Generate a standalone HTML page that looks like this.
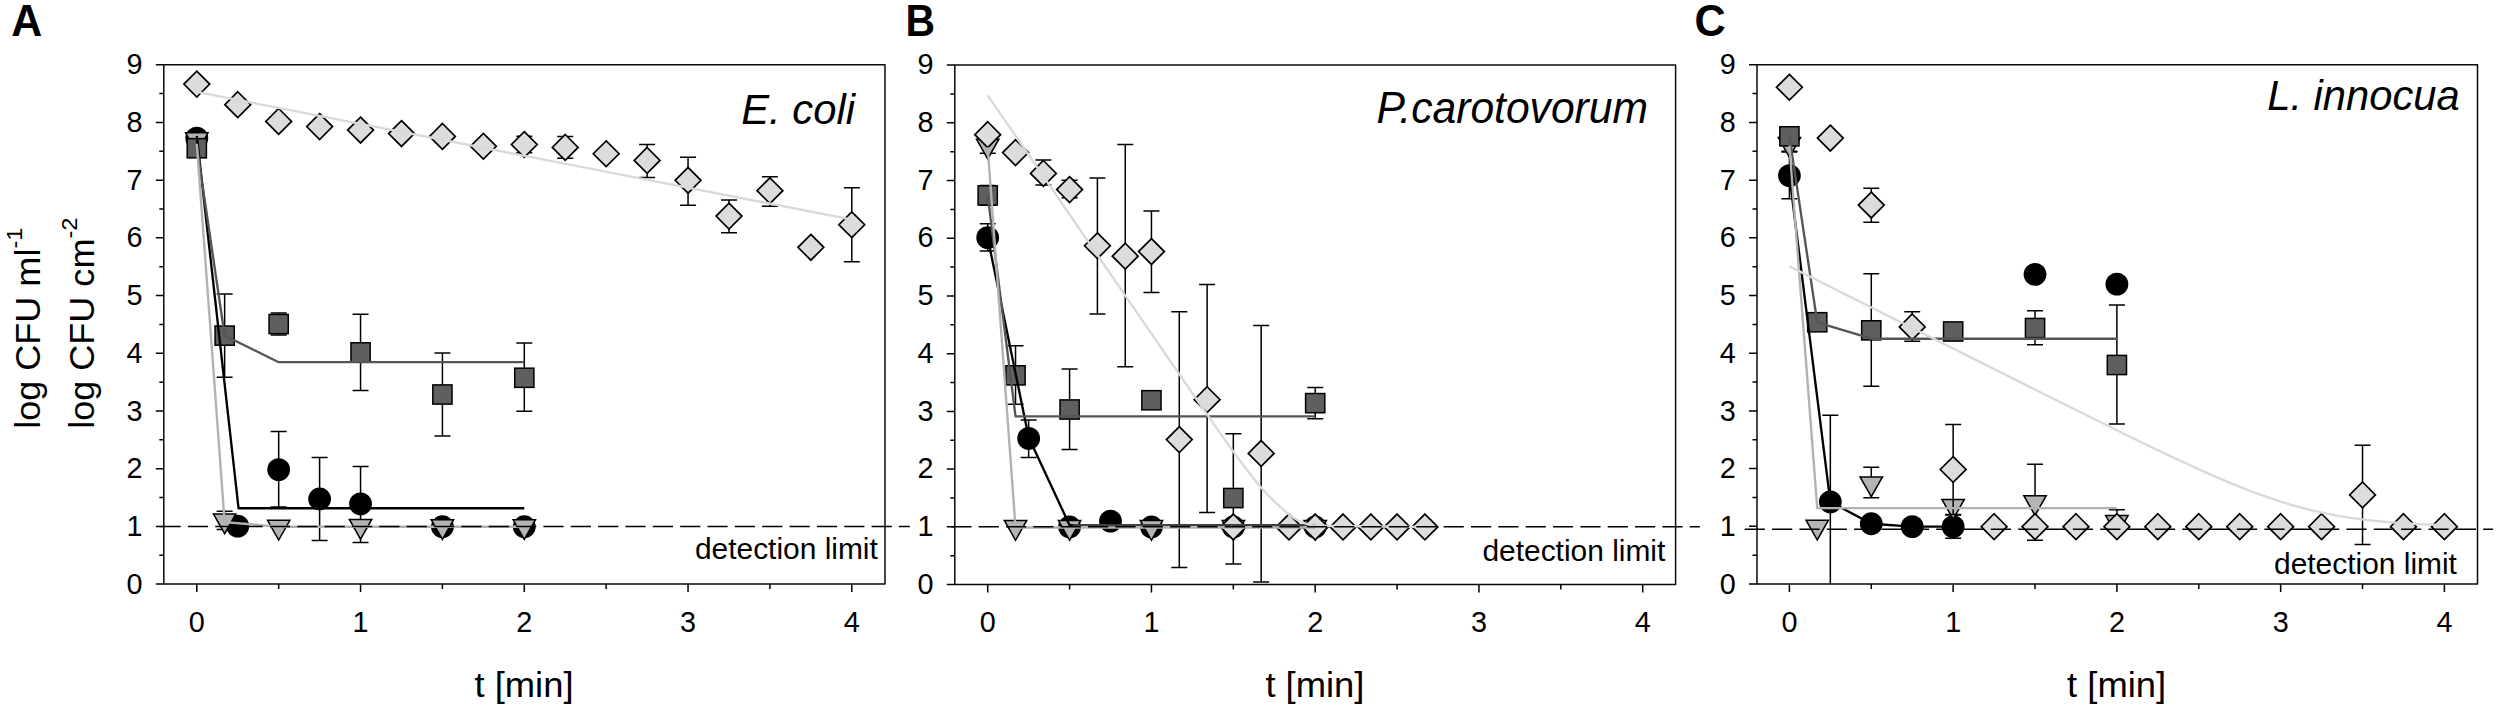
<!DOCTYPE html>
<html lang="en">
<head>
<meta charset="utf-8">
<title>Inactivation kinetics</title>
<style>
html,body{margin:0;padding:0;background:#fff;}
body{width:2500px;height:713px;overflow:hidden;}
svg{display:block;}
text{font-family:"Liberation Sans", sans-serif;fill:#000;}
</style>
</head>
<body>
<svg width="2500" height="713" viewBox="0 0 2500 713">
<rect width="2500" height="713" fill="#fff"/>
<text transform="translate(11.3 35.75) scale(0.975 1)" font-size="44" text-anchor="start" font-weight="bold">A</text>
<text transform="translate(905.6 35.75) scale(0.93 1)" font-size="44" text-anchor="start" font-weight="bold">B</text>
<text transform="translate(1694.5 36) scale(0.96 1)" font-size="45" text-anchor="start" font-weight="bold">C</text>
<g font-size="34.5">
<text transform="translate(39.8 428.8) rotate(-90) scale(1.045 1)">log CFU ml<tspan font-size="22.5" dy="-17.5">-1</tspan></text>
<text transform="translate(94.4 428.8) rotate(-90) scale(1.045 1)">log CFU cm<tspan font-size="22.5" dy="-17.5">-2</tspan></text>
</g>
<path d="M163.8 64.74H885V584.1H163.8Z" fill="none" stroke="#0a0a0a" stroke-width="1.5" stroke-linejoin="round"/>
<path d="M155.8 584.1H163.8M159.3 555.25H163.8M155.8 526.39H163.8M159.3 497.54H163.8M155.8 468.69H163.8M159.3 439.83H163.8M155.8 410.98H163.8M159.3 382.13H163.8M155.8 353.27H163.8M159.3 324.42H163.8M155.8 295.57H163.8M159.3 266.71H163.8M155.8 237.86H163.8M159.3 209.01H163.8M155.8 180.15H163.8M159.3 151.3H163.8M155.8 122.45H163.8M159.3 93.59H163.8M155.8 64.74H163.8M196.8 584.1V592.1M278.68 584.1V589.1M360.55 584.1V592.1M442.43 584.1V589.1M524.3 584.1V592.1M606.17 584.1V589.1M688.05 584.1V592.1M769.92 584.1V589.1M851.8 584.1V592.1" fill="none" stroke="#000" stroke-width="1.5"/>
<text transform="translate(142.5 593.8)" font-size="28.8" text-anchor="end">0</text>
<text transform="translate(142.5 536.06)" font-size="28.8" text-anchor="end">1</text>
<text transform="translate(142.5 478.32)" font-size="28.8" text-anchor="end">2</text>
<text transform="translate(142.5 420.58)" font-size="28.8" text-anchor="end">3</text>
<text transform="translate(142.5 362.84)" font-size="28.8" text-anchor="end">4</text>
<text transform="translate(142.5 305.1)" font-size="28.8" text-anchor="end">5</text>
<text transform="translate(142.5 247.36)" font-size="28.8" text-anchor="end">6</text>
<text transform="translate(142.5 189.62)" font-size="28.8" text-anchor="end">7</text>
<text transform="translate(142.5 131.88)" font-size="28.8" text-anchor="end">8</text>
<text transform="translate(142.5 74.14)" font-size="28.8" text-anchor="end">9</text>
<text transform="translate(196.8 631.5)" font-size="28.8" text-anchor="middle">0</text>
<text transform="translate(360.55 631.5)" font-size="28.8" text-anchor="middle">1</text>
<text transform="translate(524.3 631.5)" font-size="28.8" text-anchor="middle">2</text>
<text transform="translate(688.05 631.5)" font-size="28.8" text-anchor="middle">3</text>
<text transform="translate(851.8 631.5)" font-size="28.8" text-anchor="middle">4</text>
<text transform="translate(524 697) scale(1.04 1)" font-size="35" text-anchor="middle">t [min]</text>
<text transform="translate(855 124.3)" font-size="41.8" text-anchor="end" font-style="italic">E. coli</text>
<text transform="translate(877.8 559.3) scale(1.008 1)" font-size="29.7" text-anchor="end">detection limit</text>
<g fill="none" stroke="#000" stroke-width="1.5">
<path d="M278.68 431.47V507.11M270.68 431.47H286.68M270.68 507.11H286.68"/>
<path d="M319.61 457.45V540.6M311.61 457.45H327.61M311.61 540.6H327.61"/>
<path d="M360.55 466.4V542.62M352.55 466.4H368.55M352.55 542.62H368.55"/>
</g>
<g fill="#000" stroke="none">
<circle cx="196.8" cy="138.15" r="11.4"/>
<circle cx="237.74" cy="526.16" r="11.4"/>
<circle cx="278.68" cy="469.57" r="11.4"/>
<circle cx="319.61" cy="499.02" r="11.4"/>
<circle cx="360.55" cy="503.93" r="11.4"/>
<circle cx="442.43" cy="526.74" r="11.4"/>
<circle cx="524.3" cy="526.74" r="11.4"/>
</g>
<g fill="none" stroke="#000" stroke-width="1.5">
<path d="M224.64 511.15V529.62M216.64 511.15H232.64M216.64 529.62H232.64"/>
</g>
<g fill="#b4b4b4" stroke="#000" stroke-width="1.5" stroke-linejoin="miter">
<path d="M185.6 132.83H208L196.8 152.63Z"/>
<path d="M213.44 513.92H235.84L224.64 533.72Z"/>
<path d="M267.48 520.27H289.88L278.68 540.07Z"/>
<path d="M349.35 519.4H371.75L360.55 539.2Z"/>
<path d="M431.23 519.69H453.62L442.43 539.49Z"/>
<path d="M513.1 519.69H535.5L524.3 539.49Z"/>
</g>
<g fill="none" stroke="#000" stroke-width="1.5">
<path d="M224.64 294.05V377.19M216.64 294.05H232.64M216.64 377.19H232.64"/>
<path d="M278.68 313.1V335.04M270.68 313.1H286.68M270.68 335.04H286.68"/>
<path d="M360.55 314.25V390.47M352.55 314.25H368.55M352.55 390.47H368.55"/>
<path d="M442.43 352.94V436.09M434.43 352.94H450.43M434.43 436.09H450.43"/>
<path d="M524.3 343.12V411.26M516.3 343.12H532.3M516.3 411.26H532.3"/>
</g>
<g fill="#5f5f5f" stroke="#000" stroke-width="1.5">
<rect x="187.2" y="138.65" width="19.2" height="19.2"/>
<rect x="215.04" y="326.02" width="19.2" height="19.2"/>
<rect x="269.07" y="314.47" width="19.2" height="19.2"/>
<rect x="350.95" y="342.76" width="19.2" height="19.2"/>
<rect x="432.82" y="384.91" width="19.2" height="19.2"/>
<rect x="514.7" y="368.17" width="19.2" height="19.2"/>
</g>
<g fill="none" stroke="#000" stroke-width="1.5">
<path d="M524.3 136.13V152.87M516.3 136.13H532.3M516.3 152.87H532.3"/>
<path d="M565.24 136.41V158.36M557.24 136.41H573.24M557.24 158.36H573.24"/>
<path d="M647.11 144.5V177.41M639.11 144.5H655.11M639.11 177.41H655.11"/>
<path d="M688.05 157.2V205.13M680.05 157.2H696.05M680.05 205.13H696.05"/>
<path d="M728.99 199.93V232.84M720.99 199.93H736.99M720.99 232.84H736.99"/>
<path d="M769.92 176.83V206.28M761.92 176.83H777.92M761.92 206.28H777.92"/>
<path d="M851.8 187.8V261.71M843.8 187.8H859.8M843.8 261.71H859.8"/>
</g>
<g fill="#dcdcdc" stroke="#000" stroke-width="1.7" stroke-linejoin="miter">
<path d="M196.8 71.2L209.7 84.1L196.8 97L183.9 84.1Z"/>
<path d="M237.74 91.76L250.64 104.66L237.74 117.56L224.84 104.66Z"/>
<path d="M278.68 108.5L291.57 121.4L278.68 134.3L265.78 121.4Z"/>
<path d="M319.61 113.7L332.51 126.6L319.61 139.5L306.71 126.6Z"/>
<path d="M360.55 117.16L373.45 130.06L360.55 142.96L347.65 130.06Z"/>
<path d="M401.49 120.63L414.39 133.53L401.49 146.43L388.59 133.53Z"/>
<path d="M442.43 123.51L455.32 136.41L442.43 149.31L429.53 136.41Z"/>
<path d="M483.36 133.33L496.26 146.23L483.36 159.13L470.46 146.23Z"/>
<path d="M524.3 131.6L537.2 144.5L524.3 157.4L511.4 144.5Z"/>
<path d="M565.24 134.49L578.14 147.39L565.24 160.29L552.34 147.39Z"/>
<path d="M606.17 140.84L619.07 153.74L606.17 166.64L593.27 153.74Z"/>
<path d="M647.11 147.48L660.01 160.38L647.11 173.28L634.21 160.38Z"/>
<path d="M688.05 167.4L700.95 180.3L688.05 193.2L675.15 180.3Z"/>
<path d="M728.99 203.2L741.89 216.1L728.99 229L716.09 216.1Z"/>
<path d="M769.92 177.79L782.82 190.69L769.92 203.59L757.02 190.69Z"/>
<path d="M810.86 234.38L823.76 247.28L810.86 260.18L797.96 247.28Z"/>
<path d="M851.8 211.86L864.7 224.76L851.8 237.66L838.9 224.76Z"/>
</g>
<path d="M196.8 135.84L238.56 508.26L524.3 508.26" fill="none" stroke="#000" stroke-width="2.35" stroke-linejoin="round"/>
<path d="M196.8 146.23L224.64 335.62L278.68 362.18L524.3 362.18" fill="none" stroke="#555" stroke-width="2.35" stroke-linejoin="round"/>
<path d="M196.8 143.92L224.64 522.12L278.68 526.74L524.3 526.74" fill="none" stroke="#b2b2b2" stroke-width="2.35" stroke-linejoin="round"/>
<path d="M196.8 91.96L851.8 219.56" fill="none" stroke="#d9d9d9" stroke-width="2.35" stroke-linejoin="round"/>
<path d="M160.5 526.39H909.8" fill="none" stroke="#000" stroke-width="1.5" stroke-dasharray="20.2 7.15" stroke-dashoffset="0"/>
<path d="M954.8 65.1H1675.6V584.55H954.8Z" fill="none" stroke="#0a0a0a" stroke-width="1.5" stroke-linejoin="round"/>
<path d="M946.8 584.55H954.8M950.3 555.69H954.8M946.8 526.83H954.8M950.3 497.97H954.8M946.8 469.12H954.8M950.3 440.26H954.8M946.8 411.4H954.8M950.3 382.54H954.8M946.8 353.68H954.8M950.3 324.82H954.8M946.8 295.97H954.8M950.3 267.11H954.8M946.8 238.25H954.8M950.3 209.39H954.8M946.8 180.53H954.8M950.3 151.68H954.8M946.8 122.82H954.8M950.3 93.96H954.8M946.8 65.1H954.8M987.7 584.55V592.55M1069.58 584.55V589.55M1151.45 584.55V592.55M1233.33 584.55V589.55M1315.2 584.55V592.55M1397.08 584.55V589.55M1478.95 584.55V592.55M1560.83 584.55V589.55M1642.7 584.55V592.55" fill="none" stroke="#000" stroke-width="1.5"/>
<text transform="translate(933.5 593.8)" font-size="28.8" text-anchor="end">0</text>
<text transform="translate(933.5 536.06)" font-size="28.8" text-anchor="end">1</text>
<text transform="translate(933.5 478.32)" font-size="28.8" text-anchor="end">2</text>
<text transform="translate(933.5 420.58)" font-size="28.8" text-anchor="end">3</text>
<text transform="translate(933.5 362.84)" font-size="28.8" text-anchor="end">4</text>
<text transform="translate(933.5 305.1)" font-size="28.8" text-anchor="end">5</text>
<text transform="translate(933.5 247.36)" font-size="28.8" text-anchor="end">6</text>
<text transform="translate(933.5 189.62)" font-size="28.8" text-anchor="end">7</text>
<text transform="translate(933.5 131.88)" font-size="28.8" text-anchor="end">8</text>
<text transform="translate(933.5 74.14)" font-size="28.8" text-anchor="end">9</text>
<text transform="translate(987.7 631.98)" font-size="28.8" text-anchor="middle">0</text>
<text transform="translate(1151.45 631.98)" font-size="28.8" text-anchor="middle">1</text>
<text transform="translate(1315.2 631.98)" font-size="28.8" text-anchor="middle">2</text>
<text transform="translate(1478.95 631.98)" font-size="28.8" text-anchor="middle">3</text>
<text transform="translate(1642.7 631.98)" font-size="28.8" text-anchor="middle">4</text>
<text transform="translate(1314.9 697.48) scale(1.04 1)" font-size="35" text-anchor="middle">t [min]</text>
<text transform="translate(1648 123.3) scale(0.98 1)" font-size="43.5" text-anchor="end" font-style="italic">P.carotovorum</text>
<text transform="translate(1665.3 561) scale(1.008 1)" font-size="29.7" text-anchor="end">detection limit</text>
<g fill="none" stroke="#000" stroke-width="1.5">
<path d="M987.7 223.75V250.95M979.7 223.75H995.7M979.7 250.95H995.7"/>
<path d="M1028.64 419.91V457.52M1020.64 419.91H1036.64M1020.64 457.52H1036.64"/>
</g>
<g fill="#000" stroke="none">
<circle cx="987.7" cy="237.64" r="11.4"/>
<circle cx="1028.64" cy="438.43" r="11.4"/>
<circle cx="1069.58" cy="526.96" r="11.4"/>
<circle cx="1110.51" cy="521.17" r="11.4"/>
<circle cx="1151.45" cy="526.96" r="11.4"/>
<circle cx="1233.33" cy="526.96" r="11.4"/>
<circle cx="1315.2" cy="526.96" r="11.4"/>
</g>
<g fill="none" stroke="#000" stroke-width="1.5">
<path d="M987.7 141.59V153.16M979.7 141.59H995.7M979.7 153.16H995.7"/>
</g>
<g fill="#b4b4b4" stroke="#000" stroke-width="1.5" stroke-linejoin="miter">
<path d="M976.5 139.18H998.9L987.7 158.98Z"/>
<path d="M1004.34 520.49H1026.74L1015.54 540.29Z"/>
<path d="M1058.38 520.49H1080.78L1069.58 540.29Z"/>
<path d="M1140.25 520.49H1162.65L1151.45 540.29Z"/>
<path d="M1222.12 520.49H1244.53L1233.33 540.29Z"/>
<path d="M1304 520.49H1326.4L1315.2 540.29Z"/>
</g>
<g fill="none" stroke="#000" stroke-width="1.5">
<path d="M987.7 185.57V205.24M979.7 185.57H995.7M979.7 205.24H995.7"/>
<path d="M1015.54 345.85V404.29M1007.54 345.85H1023.54M1007.54 404.29H1023.54"/>
<path d="M1069.58 368.99V449.42M1061.58 368.99H1077.58M1061.58 449.42H1077.58"/>
<path d="M1233.33 433.8V563.99M1225.33 433.8H1241.33M1225.33 563.99H1241.33"/>
<path d="M1315.2 387.51V418.75M1307.2 387.51H1323.2M1307.2 418.75H1323.2"/>
</g>
<g fill="#5f5f5f" stroke="#000" stroke-width="1.5">
<rect x="978.1" y="185.8" width="19.2" height="19.2"/>
<rect x="1005.94" y="365.76" width="19.2" height="19.2"/>
<rect x="1059.98" y="399.9" width="19.2" height="19.2"/>
<rect x="1141.85" y="390.64" width="19.2" height="19.2"/>
<rect x="1223.73" y="488.43" width="19.2" height="19.2"/>
<rect x="1305.6" y="393.53" width="19.2" height="19.2"/>
</g>
<g fill="none" stroke="#000" stroke-width="1.5">
<path d="M1043.38 160.11V184.99M1035.38 160.11H1051.38M1035.38 184.99H1051.38"/>
<path d="M1069.58 180.36V197.72M1061.58 180.36H1077.58M1061.58 197.72H1077.58"/>
<path d="M1097.41 178.04V314.02M1089.41 178.04H1105.41M1089.41 314.02H1105.41"/>
<path d="M1125.25 144.48V366.68M1117.25 144.48H1133.25M1117.25 366.68H1133.25"/>
<path d="M1151.45 211.03V292.61M1143.45 211.03H1159.45M1143.45 292.61H1159.45"/>
<path d="M1179.29 311.71V567.46M1171.29 311.71H1187.29M1171.29 567.46H1187.29"/>
<path d="M1207.12 284.51V512.49M1199.12 284.51H1215.12M1199.12 512.49H1215.12"/>
<path d="M1261.16 325.59V581.93M1253.16 325.59H1269.16M1253.16 581.93H1269.16"/>
</g>
<g fill="#dcdcdc" stroke="#000" stroke-width="1.7" stroke-linejoin="miter">
<path d="M987.7 121.75L1000.6 134.65L987.7 147.55L974.8 134.65Z"/>
<path d="M1015.54 139.68L1028.44 152.58L1015.54 165.48L1002.64 152.58Z"/>
<path d="M1043.38 160.51L1056.28 173.41L1043.38 186.31L1030.47 173.41Z"/>
<path d="M1069.58 176.72L1082.48 189.62L1069.58 202.52L1056.67 189.62Z"/>
<path d="M1097.41 232.84L1110.31 245.74L1097.41 258.64L1084.51 245.74Z"/>
<path d="M1125.25 243.26L1138.15 256.16L1125.25 269.06L1112.35 256.16Z"/>
<path d="M1151.45 238.63L1164.35 251.53L1151.45 264.43L1138.55 251.53Z"/>
<path d="M1179.29 426.68L1192.19 439.58L1179.29 452.48L1166.39 439.58Z"/>
<path d="M1207.12 386.76L1220.03 399.66L1207.12 412.56L1194.22 399.66Z"/>
<path d="M1233.33 514.06L1246.23 526.96L1233.33 539.86L1220.42 526.96Z"/>
<path d="M1261.16 440.57L1274.06 453.47L1261.16 466.37L1248.26 453.47Z"/>
<path d="M1289 514.06L1301.9 526.96L1289 539.86L1276.1 526.96Z"/>
<path d="M1315.2 514.06L1328.1 526.96L1315.2 539.86L1302.3 526.96Z"/>
<path d="M1343.04 514.06L1355.94 526.96L1343.04 539.86L1330.14 526.96Z"/>
<path d="M1370.88 514.06L1383.78 526.96L1370.88 539.86L1357.97 526.96Z"/>
<path d="M1397.08 514.06L1409.98 526.96L1397.08 539.86L1384.17 526.96Z"/>
<path d="M1424.91 514.06L1437.81 526.96L1424.91 539.86L1412.01 526.96Z"/>
</g>
<path d="M1069.58 525.22L1315.2 525.22" fill="none" stroke="#404040" stroke-width="2.2" stroke-linejoin="round"/>
<path d="M987.7 237.64L1028.64 437.27L1069.58 525.22L1072.85 525.22" fill="none" stroke="#000" stroke-width="2.35" stroke-linejoin="round"/>
<path d="M987.7 195.4L1015.54 416.44L1315.2 416.44" fill="none" stroke="#555" stroke-width="2.35" stroke-linejoin="round"/>
<path d="M987.7 147.38L1015.54 527.54L1315.2 527.54" fill="none" stroke="#b2b2b2" stroke-width="2.35" stroke-linejoin="round"/>
<path d="M987.7 95.3L990.98 100.07L994.25 104.83L997.53 109.6L1000.8 114.37L1004.08 119.14L1007.35 123.91L1010.62 128.67L1013.9 133.44L1017.18 138.21L1020.45 142.98L1023.73 147.75L1027 152.51L1030.28 157.28L1033.55 162.05L1036.83 166.82L1040.1 171.59L1043.38 176.35L1046.65 181.12L1049.92 185.89L1053.2 190.66L1056.48 195.43L1059.75 200.19L1063.03 204.96L1066.3 209.73L1069.58 214.5L1072.85 219.26L1076.12 224.03L1079.4 228.8L1082.67 233.57L1085.95 238.34L1089.23 243.1L1092.5 247.87L1095.78 252.64L1099.05 257.41L1102.33 262.18L1105.6 266.94L1108.88 271.71L1112.15 276.48L1115.42 281.25L1118.7 286.01L1121.98 290.78L1125.25 295.55L1128.53 300.32L1131.8 305.08L1135.08 309.85L1138.35 314.62L1141.62 319.38L1144.9 324.15L1148.17 328.92L1151.45 333.68L1154.73 338.45L1158 343.21L1161.28 347.98L1164.55 352.74L1167.83 357.5L1171.1 362.27L1174.38 367.03L1177.65 371.79L1180.92 376.54L1184.2 381.3L1187.48 386.05L1190.75 390.8L1194.03 395.54L1197.3 400.28L1200.58 405.02L1203.85 409.74L1207.12 414.46L1210.4 419.17L1213.67 423.87L1216.95 428.55L1220.22 433.21L1223.5 437.85L1226.78 442.47L1230.05 447.06L1233.33 451.61L1236.6 456.11L1239.88 460.57L1243.15 464.97L1246.43 469.29L1249.7 473.54L1252.98 477.69L1256.25 481.73L1259.53 485.64L1262.8 489.41L1266.08 493.03L1269.35 496.47L1272.62 499.73L1275.9 502.82L1279.18 505.91L1282.45 508.95L1285.73 511.83L1289 514.49L1292.28 516.88L1295.55 518.97L1298.83 520.76L1302.1 522.25L1305.38 523.47L1308.65 524.44L1311.93 525.2L1315.2 525.77L1424.91 526.96" fill="none" stroke="#d9d9d9" stroke-width="2.35" stroke-linejoin="round"/>
<path d="M951.3 526.83H1699.8" fill="none" stroke="#000" stroke-width="1.5" stroke-dasharray="20.2 7.15" stroke-dashoffset="0"/>
<path d="M1757 64.75H2477.5V584H1757Z" fill="none" stroke="#0a0a0a" stroke-width="1.5" stroke-linejoin="round"/>
<path d="M1749 584H1757M1752.5 555.15H1757M1749 526.31H1757M1752.5 497.46H1757M1749 468.61H1757M1752.5 439.76H1757M1749 410.92H1757M1752.5 382.07H1757M1749 353.22H1757M1752.5 324.38H1757M1749 295.53H1757M1752.5 266.68H1757M1749 237.83H1757M1752.5 208.99H1757M1749 180.14H1757M1752.5 151.29H1757M1749 122.44H1757M1752.5 93.6H1757M1749 64.75H1757M1789.4 584V592M1871.28 584V589M1953.15 584V592M2035.03 584V589M2116.9 584V592M2198.78 584V589M2280.65 584V592M2362.53 584V589M2444.4 584V592" fill="none" stroke="#000" stroke-width="1.5"/>
<text transform="translate(1735.7 593.8)" font-size="28.8" text-anchor="end">0</text>
<text transform="translate(1735.7 536.06)" font-size="28.8" text-anchor="end">1</text>
<text transform="translate(1735.7 478.32)" font-size="28.8" text-anchor="end">2</text>
<text transform="translate(1735.7 420.58)" font-size="28.8" text-anchor="end">3</text>
<text transform="translate(1735.7 362.84)" font-size="28.8" text-anchor="end">4</text>
<text transform="translate(1735.7 305.1)" font-size="28.8" text-anchor="end">5</text>
<text transform="translate(1735.7 247.36)" font-size="28.8" text-anchor="end">6</text>
<text transform="translate(1735.7 189.62)" font-size="28.8" text-anchor="end">7</text>
<text transform="translate(1735.7 131.88)" font-size="28.8" text-anchor="end">8</text>
<text transform="translate(1735.7 74.14)" font-size="28.8" text-anchor="end">9</text>
<text transform="translate(1789.4 631.8)" font-size="28.8" text-anchor="middle">0</text>
<text transform="translate(1953.15 631.8)" font-size="28.8" text-anchor="middle">1</text>
<text transform="translate(2116.9 631.8)" font-size="28.8" text-anchor="middle">2</text>
<text transform="translate(2280.65 631.8)" font-size="28.8" text-anchor="middle">3</text>
<text transform="translate(2444.4 631.8)" font-size="28.8" text-anchor="middle">4</text>
<text transform="translate(2116.6 697.3) scale(1.04 1)" font-size="35" text-anchor="middle">t [min]</text>
<text transform="translate(2459.7 110) scale(0.975 1)" font-size="42.8" text-anchor="end" font-style="italic">L. innocua</text>
<text transform="translate(2456.9 574.4) scale(1.008 1)" font-size="29.7" text-anchor="end">detection limit</text>
<g fill="none" stroke="#000" stroke-width="1.5">
<path d="M1789.4 151.93V198.7M1781.4 151.93H1797.4M1781.4 198.7H1797.4"/>
<path d="M1830.34 415.22V584M1822.34 415.22H1838.34"/>
<path d="M1953.15 515.11V538.21M1945.15 515.11H1961.15M1945.15 538.21H1961.15"/>
</g>
<g fill="#000" stroke="none">
<circle cx="1789.4" cy="175.6" r="11.4"/>
<circle cx="1830.34" cy="501.83" r="11.4"/>
<circle cx="1871.28" cy="523.77" r="11.4"/>
<circle cx="1912.21" cy="526.66" r="11.4"/>
<circle cx="1953.15" cy="526.66" r="11.4"/>
<circle cx="2035.03" cy="274.34" r="11.4"/>
<circle cx="2116.9" cy="284.15" r="11.4"/>
</g>
<g fill="none" stroke="#000" stroke-width="1.5">
<path d="M1789.4 139.8V151.35M1781.4 139.8H1797.4M1781.4 151.35H1797.4"/>
<path d="M1871.28 467.19V497.79M1863.28 467.19H1879.28M1863.28 497.79H1879.28"/>
<path d="M2035.03 464.3V540.23M2027.03 464.3H2043.03M2027.03 540.23H2043.03"/>
<path d="M2116.9 509.63V529.55M2108.9 509.63H2124.9M2108.9 529.55H2124.9"/>
</g>
<g fill="#b4b4b4" stroke="#000" stroke-width="1.5" stroke-linejoin="miter">
<path d="M1778.2 137.38H1800.6L1789.4 157.18Z"/>
<path d="M1806.04 520.19H1828.44L1817.24 539.99Z"/>
<path d="M1860.08 476.89H1882.48L1871.28 496.69Z"/>
<path d="M1941.95 499.41H1964.35L1953.15 519.21Z"/>
<path d="M2023.83 495.65H2046.23L2035.03 515.45Z"/>
<path d="M2105.7 515.57H2128.1L2116.9 535.37Z"/>
</g>
<g fill="none" stroke="#000" stroke-width="1.5">
<path d="M1789.4 130.56V142.11M1781.4 130.56H1797.4M1781.4 142.11H1797.4"/>
<path d="M1871.28 273.76V386.35M1863.28 273.76H1879.28M1863.28 386.35H1879.28"/>
<path d="M2035.03 310.71V344.78M2027.03 310.71H2043.03M2027.03 344.78H2043.03"/>
<path d="M2116.9 304.94V423.88M2108.9 304.94H2124.9M2108.9 423.88H2124.9"/>
</g>
<g fill="#5f5f5f" stroke="#000" stroke-width="1.5">
<rect x="1779.8" y="126.74" width="19.2" height="19.2"/>
<rect x="1807.64" y="312.66" width="19.2" height="19.2"/>
<rect x="1861.68" y="320.74" width="19.2" height="19.2"/>
<rect x="1943.55" y="321.9" width="19.2" height="19.2"/>
<rect x="2025.43" y="318.43" width="19.2" height="19.2"/>
<rect x="2107.3" y="355.39" width="19.2" height="19.2"/>
</g>
<g fill="none" stroke="#000" stroke-width="1.5">
<path d="M1871.28 188.3V222.37M1863.28 188.3H1879.28M1863.28 222.37H1879.28"/>
<path d="M1912.21 311.87V341.31M1904.21 311.87H1920.21M1904.21 341.31H1920.21"/>
<path d="M1953.15 424.46V514.53M1945.15 424.46H1961.15M1945.15 514.53H1961.15"/>
<path d="M2362.53 445.25V544.56M2354.53 445.25H2370.53M2354.53 544.56H2370.53"/>
</g>
<g fill="#dcdcdc" stroke="#000" stroke-width="1.7" stroke-linejoin="miter">
<path d="M1789.4 74.36L1802.3 87.26L1789.4 100.16L1776.5 87.26Z"/>
<path d="M1830.34 125.17L1843.24 138.07L1830.34 150.97L1817.44 138.07Z"/>
<path d="M1871.28 192.15L1884.18 205.05L1871.28 217.95L1858.38 205.05Z"/>
<path d="M1912.21 313.98L1925.11 326.88L1912.21 339.78L1899.31 326.88Z"/>
<path d="M1953.15 456.6L1966.05 469.5L1953.15 482.4L1940.25 469.5Z"/>
<path d="M1994.09 513.76L2006.99 526.66L1994.09 539.56L1981.19 526.66Z"/>
<path d="M2035.03 513.76L2047.93 526.66L2035.03 539.56L2022.12 526.66Z"/>
<path d="M2075.96 513.76L2088.86 526.66L2075.96 539.56L2063.06 526.66Z"/>
<path d="M2116.9 513.76L2129.8 526.66L2116.9 539.56L2104 526.66Z"/>
<path d="M2157.84 513.76L2170.74 526.66L2157.84 539.56L2144.94 526.66Z"/>
<path d="M2198.78 513.76L2211.68 526.66L2198.78 539.56L2185.88 526.66Z"/>
<path d="M2239.71 513.76L2252.61 526.66L2239.71 539.56L2226.81 526.66Z"/>
<path d="M2280.65 513.76L2293.55 526.66L2280.65 539.56L2267.75 526.66Z"/>
<path d="M2321.59 513.76L2334.49 526.66L2321.59 539.56L2308.69 526.66Z"/>
<path d="M2362.53 482L2375.43 494.9L2362.53 507.8L2349.62 494.9Z"/>
<path d="M2403.46 513.76L2416.36 526.66L2403.46 539.56L2390.56 526.66Z"/>
<path d="M2444.4 513.76L2457.3 526.66L2444.4 539.56L2431.5 526.66Z"/>
</g>
<path d="M1789.4 175.6L1830.34 501.83L1871.28 523.77L1912.21 526.66L1953.15 526.66" fill="none" stroke="#000" stroke-width="2.35" stroke-linejoin="round"/>
<path d="M1789.4 136.34L1817.24 322.26L1871.28 338.72L2116.9 338.72" fill="none" stroke="#555" stroke-width="2.35" stroke-linejoin="round"/>
<path d="M1789.4 145.58L1817.24 508.18L2116.9 508.18" fill="none" stroke="#b2b2b2" stroke-width="2.35" stroke-linejoin="round"/>
<path d="M1789.4 266.25L1795.95 269.54L1802.5 272.83L1809.05 276.12L1815.6 279.42L1822.15 282.71L1828.7 286L1835.25 289.29L1841.8 292.58L1848.35 295.87L1854.9 299.16L1861.45 302.45L1868 305.74L1874.55 309.03L1881.1 312.32L1887.65 315.61L1894.2 318.91L1900.75 322.2L1907.3 325.49L1913.85 328.78L1920.4 332.07L1926.95 335.36L1933.5 338.64L1940.05 341.93L1946.6 345.22L1953.15 348.51L1959.7 351.8L1966.25 355.09L1972.8 358.38L1979.35 361.66L1985.9 364.95L1992.45 368.23L1999 371.52L2005.55 374.8L2012.1 378.09L2018.65 381.37L2025.2 384.65L2031.75 387.93L2038.3 391.2L2044.85 394.48L2051.4 397.75L2057.95 401.02L2064.5 404.29L2071.05 407.56L2077.6 410.82L2084.15 414.07L2090.7 417.32L2097.25 420.57L2103.8 423.81L2110.35 427.04L2116.9 430.27L2123.45 433.48L2130 436.69L2136.55 439.88L2143.1 443.07L2149.65 446.23L2156.2 449.38L2162.75 452.51L2169.3 455.62L2175.85 458.71L2182.4 461.76L2188.95 464.79L2195.5 467.79L2202.05 470.74L2208.6 473.66L2215.15 476.53L2221.7 479.35L2228.25 482.11L2234.8 484.82L2241.35 487.45L2247.9 490.02L2254.45 492.51L2261 494.91L2267.55 497.23L2274.1 499.46L2280.65 501.59L2287.2 503.62L2293.75 505.54L2300.3 507.36L2306.85 509.08L2313.4 510.68L2319.95 512.18L2326.5 513.57L2333.05 514.86L2339.6 516.04L2346.15 517.13L2352.7 518.12L2359.25 519.03L2365.8 519.85L2372.35 520.6L2378.9 521.27L2385.45 521.87L2392 522.41L2398.55 522.9L2405.1 523.33L2411.65 523.72L2418.2 524.06L2424.75 524.37L2431.3 524.64L2437.85 524.88L2444.4 525.09" fill="none" stroke="#d9d9d9" stroke-width="2.35" stroke-linejoin="round"/>
<path d="M1744.7 529.19H2493.2" fill="none" stroke="#000" stroke-width="1.5" stroke-dasharray="20.2 7.15" stroke-dashoffset="0"/>
</svg>
</body>
</html>
